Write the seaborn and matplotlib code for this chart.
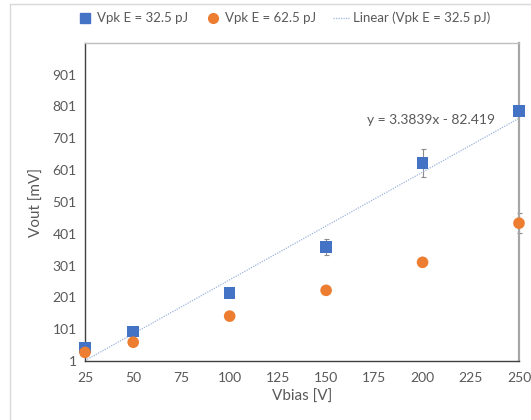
import numpy as np
import pandas as pd
import matplotlib
matplotlib.use("Agg")
import matplotlib.pyplot as plt
from matplotlib.ticker import FixedLocator
from matplotlib.patches import Rectangle
import seaborn as sns

# Measured output voltage versus bias voltage for two pulse energies
vbias = [25, 50, 100, 150, 200, 250]
vout_32 = [44, 94, 214, 359, 623, 786]
vout_62 = [28, 60, 142, 223, 311, 434]
err_32 = [0, 0, 0, 24, 45, 0]
err_62 = [0, 0, 0, 0, 0, 31]

# Linear trendline for the 32.5 pJ series
slope, intercept = 3.3839, -82.419

y_ticks = [1, 101, 201, 301, 401, 501, 601, 701, 801, 901]
x_ticks = [25, 50, 75, 100, 125, 150, 175, 200, 225, 250]

label_32 = "Vpk E = 32.5 pJ"
label_62 = "Vpk E = 62.5 pJ"
label_fit = "Linear (Vpk E = 32.5 pJ)"

BLUE = "#4472C4"
ORANGE = "#ED7D31"
TXT = "#595959"
FIT = "#9DB5E0"

sns.set_style("white")
plt.rcParams["font.family"] = ["Lato", "DejaVu Sans"]

df = pd.DataFrame({
    "Vbias": vbias * 2,
    "Vout": vout_32 + vout_62,
    "series": [label_32] * len(vbias) + [label_62] * len(vbias),
})

fig = plt.figure(figsize=(5.31, 4.20), dpi=100)
fig.patches.append(Rectangle((10 / 531, -0.01), 1.1, 1 - 4 / 420 + 0.01,
                             transform=fig.transFigure, fill=False,
                             edgecolor="#D9D9D9", linewidth=1.0, zorder=0))
ax = fig.add_axes([85 / 531, 59 / 420, 434 / 531, 318 / 420])

# error bars drawn beneath the markers
for vals, errs in [(vout_32, err_32), (vout_62, err_62)]:
    eb = ax.errorbar(vbias, vals, yerr=errs, fmt="none", ecolor="#8C8C8C",
                     elinewidth=0.8, capsize=1.8, capthick=0.8, zorder=2)
    for art in eb.lines[1] + eb.lines[2]:
        art.set_clip_on(False)

sns.scatterplot(data=df, x="Vbias", y="Vout", hue="series", style="series",
                palette={label_32: BLUE, label_62: ORANGE},
                markers={label_32: "s", label_62: "o"},
                s=70, linewidth=0, ax=ax, zorder=3, legend=False)
for coll in ax.collections:
    coll.set_clip_on(False)

xs = np.array([vbias[0], vbias[-1]])
ax.plot(xs, slope * xs + intercept, color=FIT, linewidth=0.9,
        linestyle=(0, (1, 1)), zorder=2)

ax.text(171, 758, f"y = {slope}x - {abs(intercept)}", fontsize=10,
        color=TXT, va="center", ha="left")

ax.set_xlim(25, 250)
ax.set_ylim(1, 1000)
ax.xaxis.set_major_locator(FixedLocator(x_ticks))
ax.yaxis.set_major_locator(FixedLocator(y_ticks))
ax.yaxis.set_minor_locator(FixedLocator(np.arange(21, 1000, 20)))

ax.tick_params(axis="both", which="both", direction="in", colors="#404040",
               labelcolor=TXT, labelsize=10)
ax.tick_params(axis="y", which="major", length=5, width=0.9, pad=6)
ax.tick_params(axis="y", which="minor", length=3, width=0.8)
ax.tick_params(axis="x", which="major", length=5, width=0.9, pad=8)

for side in ["left", "bottom"]:
    ax.spines[side].set_color("#404040")
    ax.spines[side].set_linewidth(1.0)
ax.spines["top"].set_color("#BFBFBF")
ax.spines["top"].set_linewidth(1.0)
ax.spines["right"].set_color("#A6A6A6")
ax.spines["right"].set_linewidth(1.6)

ax.set_xlabel("Vbias [V]", fontsize=11, color=TXT, labelpad=4)
ax.set_ylabel("Vout [mV]", fontsize=11, color=TXT, labelpad=6)

handles = [
    plt.Line2D([], [], marker="s", color=BLUE, linestyle="none", markersize=6.5),
    plt.Line2D([], [], marker="o", color=ORANGE, linestyle="none", markersize=7),
    plt.Line2D([], [], color=FIT, linestyle=(0, (1, 1)), linewidth=0.9),
]
fig.legend(handles, [label_32, label_62, label_fit], loc="center",
           bbox_to_anchor=(0.534, 1 - 18 / 420), ncol=3, frameon=False,
           fontsize=9.5, labelcolor=TXT, handlelength=1.2, handletextpad=0.3,
           columnspacing=1.3)

fig.savefig("out.png", dpi=100)
